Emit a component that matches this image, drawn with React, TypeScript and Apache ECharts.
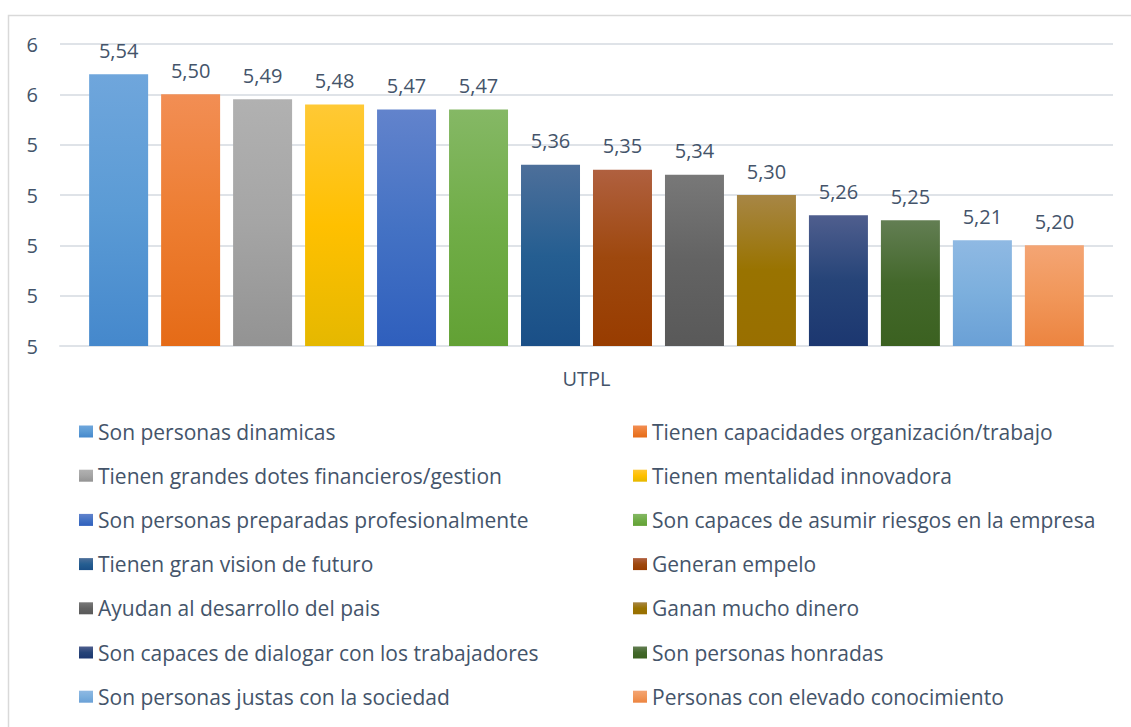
import React, { useEffect, useRef } from "react";
import * as echarts from "echarts";

const categories = ["UTPL"];
const seriesNames = [
  "Son personas dinamicas",
  "Tienen capacidades organización/trabajo",
  "Tienen grandes dotes financieros/gestion",
  "Tienen mentalidad innovadora",
  "Son personas preparadas profesionalmente",
  "Son capaces de asumir riesgos en la empresa",
  "Tienen gran vision de futuro",
  "Generan empelo",
  "Ayudan al desarrollo del pais",
  "Ganan mucho dinero",
  "Son capaces de dialogar con los trabajadores",
  "Son personas honradas",
  "Son personas justas con la sociedad",
  "Personas con elevado conocimiento",
];
const seriesValues = [5.54, 5.5, 5.49, 5.48, 5.47, 5.47, 5.36, 5.35, 5.34, 5.3, 5.26, 5.25, 5.21, 5.2];
const yTicks = { min: 5, max: 5.6, interval: 0.1 };

const gradients: [string, string, string][] = [
  ["#6fa6dc", "#5b9bd5", "#4588cc"],
  ["#f28e54", "#ed7d31", "#e56b17"],
  ["#b1b1b1", "#a5a5a5", "#939393"],
  ["#ffc935", "#ffc000", "#e5b800"],
  ["#6283cc", "#4472c4", "#2f5fbd"],
  ["#85b865", "#70ad47", "#62a134"],
  ["#4d6f9a", "#255e91", "#1a4f87"],
  ["#b0603f", "#9e480e", "#983c00"],
  ["#787878", "#636363", "#595959"],
  ["#a78645", "#997300", "#996f00"],
  ["#4f5e8e", "#264478", "#1c3770"],
  ["#637e53", "#43682b", "#3b6120"],
  ["#8fb9e3", "#7cafdd", "#6aa0d6"],
  ["#f4a574", "#f1975a", "#ec8440"],
];

const FONT = "Open Sans";
const TEXT = "#44546a";

export default function App() {
  const ref = useRef<HTMLDivElement>(null);
  useEffect(() => {
    const chart = echarts.init(ref.current!, null, { renderer: "svg" });
    const grad = (c: [string, string, string]) =>
      new echarts.graphic.LinearGradient(0, 0, 0, 1, [
        { offset: 0, color: c[0] },
        { offset: 0.5, color: c[1] },
        { offset: 1, color: c[2] },
      ]);
    const series = seriesNames.map((name, i) => ({
      name,
      type: "bar",
      data: [seriesValues[i]],
      barWidth: 59,
      barGap: "22%",
      itemStyle: { color: grad(gradients[i]) },
      label: {
        show: true,
        position: "top",
        distance: 14,
        color: TEXT,
        fontFamily: FONT,
        fontSize: 20,
        formatter: (p: any) => p.value.toFixed(2).replace(".", ","),
      },
    }));
    const legendCommon = {
      orient: "vertical",
      itemWidth: 14,
      itemHeight: 12,
      itemGap: 23.2,
      icon: "rect",
      textStyle: { color: TEXT, fontFamily: FONT, fontSize: 21, lineHeight: 21 },
      selectedMode: false,
    };
    chart.setOption({
      animation: false,
      graphic: [
        {
          type: "rect",
          shape: { x: 8.5, y: 15.5, width: 1200, height: 800 },
          style: { fill: "none", stroke: "#d9d9d9", lineWidth: 1.5 },
          silent: true,
        },
      ],
      grid: { left: 60, right: 18, top: 44, bottom: 381 },
      xAxis: {
        type: "category",
        data: categories,
        axisTick: { show: false },
        axisLine: { show: true, lineStyle: { color: "#dfe3e8", width: 2 } },
        axisLabel: { color: TEXT, fontFamily: FONT, fontSize: 20, margin: 22 },
      },
      yAxis: {
        type: "value",
        min: yTicks.min,
        max: yTicks.max,
        interval: yTicks.interval,
        axisLine: { show: false },
        axisTick: { show: false },
        splitLine: { lineStyle: { color: "#dfe3e8", width: 2 } },
        axisLabel: {
          color: TEXT,
          fontFamily: FONT,
          fontSize: 20,
          margin: 22,
          formatter: (v: number) => String(Math.round(v + 1e-9)),
        },
      },
      legend: [
        { ...legendCommon, left: 74, top: 416, data: seriesNames.filter((_, i) => i % 2 === 0) },
        { ...legendCommon, left: 628, top: 416, data: seriesNames.filter((_, i) => i % 2 === 1) },
      ],
      series,
    });
    return () => chart.dispose();
  }, []);
  return (
    <div
      ref={ref}
      style={{ position: "fixed", left: 0, top: 0, width: 1131, height: 727, background: "#fff" }}
    />
  );
}
